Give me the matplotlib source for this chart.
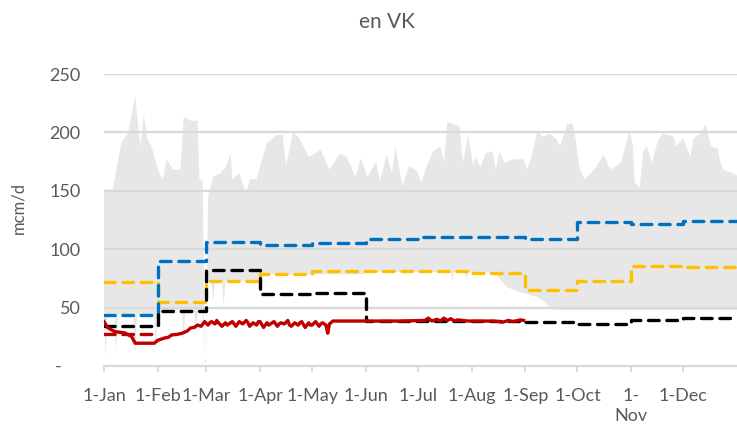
import matplotlib
matplotlib.use("Agg")
import matplotlib.pyplot as plt
import numpy as np

plt.rcParams['font.family'] = ['Lato', 'DejaVu Sans']

# ---------------- data ----------------
month_starts = [0, 31, 59, 90, 120, 151, 181, 212, 243, 273, 304, 334]
month_labels = ['1-Jan', '1-Feb', '1-Mar', '1-Apr', '1-May', '1-Jun', '1-Jul',
                '1-Aug', '1-Sep', '1-Oct', '1-\nNov', '1-Dec']
year_end = 365

# monthly step series (mcm/d)
blue_vals = [44, 90, 106, 104, 105, 108.5, 110.5, 110.5, 108.5, 123, 121.5, 124]
yellow_vals = [72, 55, 73, 78.5, 81, 81, 81, 79.5, 65, 73, 86, 84.5]
black_vals = [34, 47.5, 82, 61.5, 62.5, 38.5, 38.5, 38.5, 38, 36, 39.5, 41.5]
red_dash_days = [0, 31]
red_dash_vals = [27, 27]

# actual flows (red solid), day of year / value
red_days = [0, 2, 6, 12, 16, 18, 29, 31, 35, 37, 39, 42, 45, 48, 50, 52, 54, 56, 58,
            60, 61, 62, 64, 65, 66, 68, 70, 71, 72, 74, 76, 77, 78, 80, 82, 83, 84,
            86, 88, 89, 90, 92, 94, 95, 96, 98, 100, 101, 102, 104, 106, 107, 108,
            110, 112, 113, 114, 116, 118, 119, 120, 122, 124, 125, 126, 128, 129,
            130, 132, 150, 170, 185, 187, 189, 192, 194, 196, 198, 200, 202, 204,
            210, 225, 230, 233, 236, 240, 242]
red_vals = [38, 33, 29.5, 28.3, 25, 19.5, 19.5, 22, 24, 24.5, 26.6, 27, 28, 30, 32.6,
            33, 35, 34, 38,
            35, 37, 38, 36, 39, 37, 34, 37, 35, 36, 38, 34, 36, 38, 36, 39, 37, 34,
            37, 35, 38, 38, 33, 37, 35, 36, 38, 34, 36, 37, 36, 39, 35, 34,
            37, 35, 37, 38, 33, 37, 35, 35, 38, 34, 36, 37, 35, 28,
            36, 38.5, 38.5, 38.5, 39, 41, 38.5, 40, 38.5, 41, 39, 40.5, 38.5, 39.5,
            38.5, 38.5, 37.5, 39, 38, 39.5, 39]

# range band (grey area): upper and lower envelopes
upper_days = [0, 5, 10, 14, 18, 21, 23, 25, 28, 29, 32, 34, 36, 40, 44, 46, 50, 54,
              55, 57, 58, 59, 60, 63, 67, 70, 73, 74, 78, 82, 84, 88, 90, 94, 100,
              103, 105, 109, 113, 118, 125, 130, 136, 140, 145, 148, 152, 157, 159,
              163, 166, 168, 172, 176, 180, 183, 186, 190, 194, 196, 198, 205, 207,
              210, 213, 214, 217, 220, 224, 226, 228, 231, 236, 242, 244, 247, 250,
              253, 257, 261, 263, 267, 270, 272, 274, 277, 280, 284, 288, 292, 298,
              302, 303, 305, 306, 309, 311, 313, 316, 319, 322, 328, 330, 334, 338,
              340, 344, 347, 350, 354, 355, 357, 363, 365]
upper_vals = [151, 151, 191, 200, 231, 188, 215, 195, 185, 179, 165, 160, 177, 168, 168, 213, 210, 210,
              160, 158, 5, 5, 145, 162, 165, 170, 181, 160, 165, 148, 160, 160, 171, 191, 198,
              198, 171, 201, 194, 179, 185, 168, 182, 179, 162, 178, 162, 175, 158,
              181, 165, 188, 154, 171, 168, 157, 171, 184, 188, 175, 209, 205, 174,
              198, 171, 180, 170, 182, 184, 168, 184, 174, 177, 177, 168, 182, 202,
              196, 199, 194, 188, 207, 208, 194, 171, 160, 164, 171, 181, 168, 174,
              195, 202, 188, 157, 153, 184, 188, 174, 191, 199, 197, 188, 195, 179,
              195, 199, 207, 188, 186, 177, 168, 165, 163]
lower_days = [0, 1, 2, 6, 7, 8, 17, 18, 19, 29, 30, 31, 45, 46, 47, 52, 53, 54, 57,
              58, 59, 60, 62, 63, 64, 68, 69, 70, 89, 90, 150, 151, 200, 201, 202,
              208, 209, 210, 225, 228, 232, 238, 245, 250, 255, 257, 260, 365]
lower_vals = [44, 8, 44, 44, 12, 44, 44, 10, 44, 44, 12, 48, 48, 22, 48, 48, 26, 48, 48,
              3, 3, 73, 73, 55, 73, 73, 52, 73, 73, 78.5, 78.5, 80.5, 80.5, 73, 80.5,
              80.5, 74, 80.5, 80, 75, 68, 64, 61, 59, 54, 50, 48, 48]

y_ticks = [0, 50, 100, 150, 200, 250]
y_ticklabels = ['-    ', '50', '100', '150', '200', '250']

# ---------------- styles ----------------
TXT = '#595959'
GRID = '#D9D9D9'
BAND = '#E7E7E7'

fig = plt.figure(figsize=(7.37, 4.28), dpi=100)
ax = fig.add_axes([104 / 737, 62 / 428, (737 - 104) / 737, (366 - 74) / 428])
ax.set_xlim(0, year_end)
ax.set_ylim(0, 250)

# grey band
band_x = list(upper_days) + list(lower_days[::-1])
band_y = list(upper_vals) + list(lower_vals[::-1])
ax.fill(band_x, band_y, color=BAND, lw=0, zorder=1)

# gridlines
for yv in y_ticks[1:]:
    ax.axhline(yv, color=GRID, lw=1.6, zorder=2)

def steps(vals):
    xs = list(month_starts) + [year_end]
    ys = list(vals) + [vals[-1]]
    return xs, ys

dash = dict(lw=2.4, dashes=(3.2, 2.3), dash_capstyle='round', zorder=3)
x, y = steps(yellow_vals)
ax.step(x, y, where='post', color='#FFC000', **dash)
x, y = steps(blue_vals)
ax.step(x, y, where='post', color='#0070C0', **dash)
x, y = steps(black_vals)
ax.step(x, y, where='post', color='#000000', **dash)
ax.step(red_dash_days, red_dash_vals, where='post', color='#C00000', **dash)
ax.plot(red_days, red_vals, color='#C00000', lw=2.4, zorder=4,
        solid_joinstyle='round')

# axes styling
for s in ['top', 'right', 'left']:
    ax.spines[s].set_visible(False)
ax.spines['bottom'].set_color(GRID)
ax.spines['bottom'].set_linewidth(1.6)
ax.spines['bottom'].set_zorder(2)

ax.set_xticks(month_starts)
ax.set_xticklabels(month_labels, linespacing=1.35)
ax.tick_params(axis='x', direction='out', length=4.5, width=1.4, color=GRID,
               pad=11, labelsize=13, labelcolor=TXT)
ax.set_yticks(y_ticks)
ax.set_yticklabels(y_ticklabels)
ax.tick_params(axis='y', length=0, pad=17, labelsize=13, labelcolor=TXT)
ax.set_facecolor('white')

fig.text(387 / 737, 1 - 22 / 428, 'en VK', ha='center', va='center',
         fontsize=15, color=TXT)
fig.text(18 / 737, 1 - 208 / 428, 'mcm/d', ha='center', va='center',
         rotation=90, fontsize=12, color=TXT)

fig.savefig('out.png', dpi=100)
